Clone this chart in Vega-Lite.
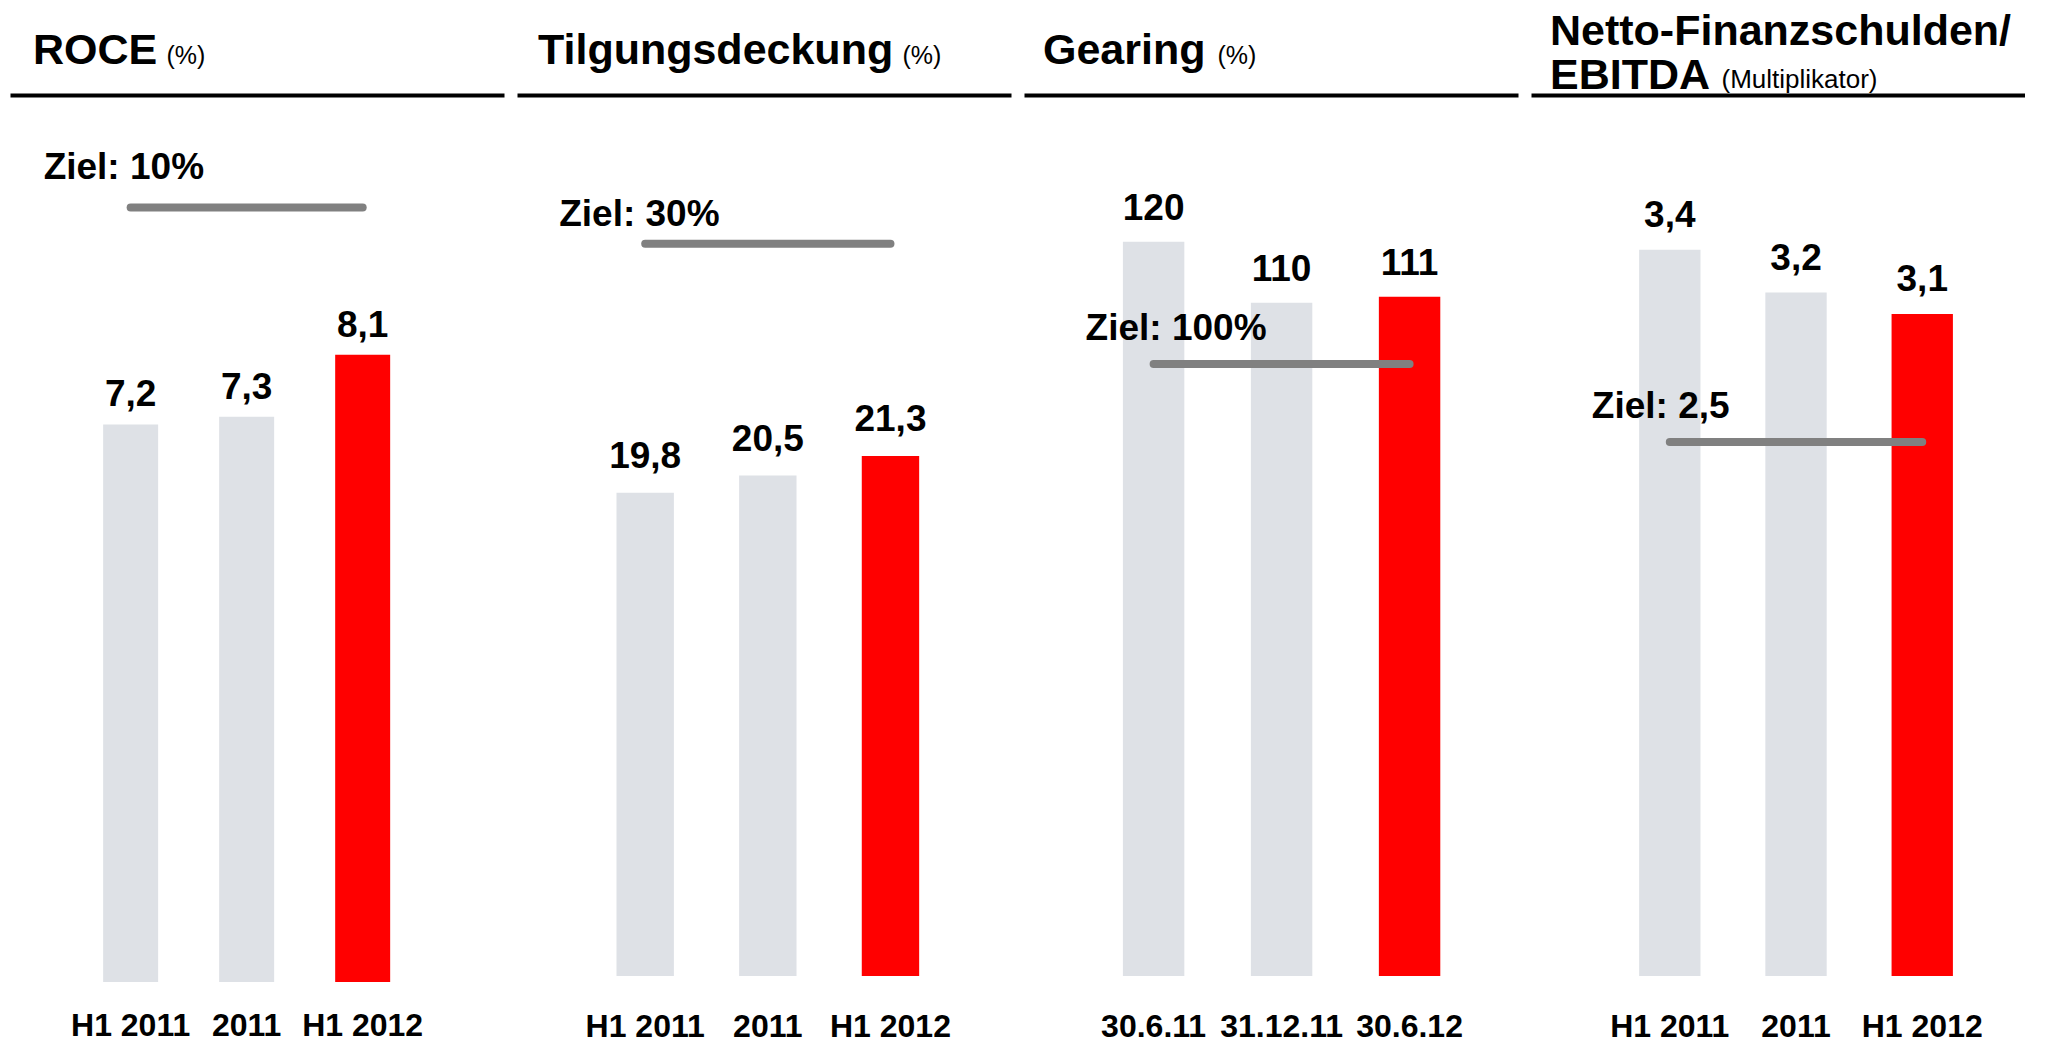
{
  "$schema": "https://vega.github.io/schema/vega-lite/v6.json",
  "background": "white",
  "padding": {"left": 10, "top": 11, "right": 0, "bottom": 0},
  "spacing": 13,
  "config": {
    "locale": {"number": {"decimal": ",", "thousands": ".", "grouping": [3], "currency": ["", " €"]}},
    "view": {"stroke": null},
    "font": "Liberation Sans",
    "title": {"font": "Liberation Sans", "fontSize": 43, "fontWeight": "bold", "color": "black", "anchor": "start", "frame": "group", "dx": 21, "offset": -30, "lineHeight": 41},
    "text": {"font": "Liberation Sans", "fontWeight": "bold", "fontSize": 37, "color": "black"}
  },
  "datasets": {
    "bars": [
      {"kpi": "ROCE", "period": "H1 2011", "value": 7.2, "current": "no"},
      {"kpi": "ROCE", "period": "2011", "value": 7.3, "current": "no"},
      {"kpi": "ROCE", "period": "H1 2012", "value": 8.1, "current": "yes"},
      {"kpi": "Tilgung", "period": "H1 2011", "value": 19.8, "current": "no"},
      {"kpi": "Tilgung", "period": "2011", "value": 20.5, "current": "no"},
      {"kpi": "Tilgung", "period": "H1 2012", "value": 21.3, "current": "yes"},
      {"kpi": "Gearing", "period": "30.6.11", "value": 120, "current": "no"},
      {"kpi": "Gearing", "period": "31.12.11", "value": 110, "current": "no"},
      {"kpi": "Gearing", "period": "30.6.12", "value": 111, "current": "yes"},
      {"kpi": "NFS", "period": "H1 2011", "value": 3.4, "current": "no"},
      {"kpi": "NFS", "period": "2011", "value": 3.2, "current": "no"},
      {"kpi": "NFS", "period": "H1 2012", "value": 3.1, "current": "yes"}
    ],
    "targets": [
      {"kpi": "ROCE", "from": "H1 2011", "to": "H1 2012", "target": 10, "label": "Ziel: 10%"},
      {"kpi": "Tilgung", "from": "H1 2011", "to": "H1 2012", "target": 30, "label": "Ziel: 30%"},
      {"kpi": "Gearing", "from": "30.6.11", "to": "30.6.12", "target": 100, "label": "Ziel: 100%"},
      {"kpi": "NFS", "from": "H1 2011", "to": "H1 2012", "target": 2.5, "label": "Ziel: 2,5"}
    ]
  },
  "hconcat": [
    {
      "width": 494, "height": 887,
      "title": {"text": "ROCE", "dx": 23},
      "layer": [
        {
          "data": {"name": "bars"},
          "transform": [{"filter": "datum.kpi === 'ROCE'"}],
          "mark": {"type": "bar"},
          "encoding": {
            "x": {"field": "period", "type": "nominal", "sort": null,
              "scale": {"domain": ["H1 2011", "2011", "H1 2012"], "paddingInner": 0.526, "paddingOuter": 0.892, "align": 0.45},
              "axis": {"orient": "bottom", "title": null, "domain": false, "ticks": false, "grid": false, "labelAngle": 0, "labelFont": "Liberation Sans", "labelFontSize": 32, "labelFontWeight": "bold", "labelColor": "black", "labelPadding": 28}},
            "y": {"field": "value", "type": "quantitative", "scale": {"domain": [0, 11.454], "nice": false}, "axis": null},
            "color": {"field": "current", "type": "nominal", "scale": {"domain": ["no", "yes"], "range": ["#dee1e6", "#ff0000"]}, "legend": null}
          }
        },
        {
          "data": {"name": "bars"},
          "transform": [{"filter": "datum.kpi === 'ROCE'"}],
          "mark": {"type": "text", "baseline": "alphabetic", "dy": -18},
          "encoding": {
            "x": {"field": "period", "type": "nominal", "sort": null, "axis": null},
            "y": {"field": "value", "type": "quantitative", "scale": {"domain": [0, 11.454], "nice": false}, "axis": null},
            "text": {"field": "value", "type": "quantitative", "format": ".1f"}
          }
        },
        {
          "data": {"name": "targets"},
          "transform": [{"filter": "datum.kpi === 'ROCE'"}],
          "mark": {"type": "rule", "strokeWidth": 8, "color": "#808080", "strokeCap": "round"},
          "encoding": {
            "x": {"field": "from", "type": "nominal", "bandPosition": 0.5,
              "axis": {"orient": "top", "title": "(%)", "labels": false, "ticks": false, "grid": false, "domain": true, "domainColor": "black", "domainWidth": 4, "titleFont": "Liberation Sans", "titleFontSize": 25, "titleFontWeight": "normal", "titleColor": "black", "titleAnchor": "start", "titleAlign": "left", "titleBaseline": "alphabetic", "titleX": 156, "titleY": -32}},
            "x2": {"field": "to", "bandPosition": 0.5},
            "y": {"field": "target", "type": "quantitative", "scale": {"domain": [0, 11.454], "nice": false}, "axis": null}
          }
        },
        {
          "data": {"name": "targets"},
          "transform": [{"filter": "datum.kpi === 'ROCE'"}],
          "mark": {"type": "text", "align": "left", "baseline": "middle", "dx": -87, "dy": -40},
          "encoding": {
            "x": {"field": "from", "type": "nominal", "axis": null},
            "y": {"field": "target", "type": "quantitative", "scale": {"domain": [0, 11.454], "nice": false}, "axis": null},
            "text": {"field": "label", "type": "nominal"}
          }
        }
      ],
      "resolve": {"axis": {"x": "independent"}}
    },
    {
      "width": 494, "height": 881,
      "title": {"text": "Tilgungsdeckung", "dx": 21},
      "layer": [
        {
          "data": {"name": "bars"},
          "transform": [{"filter": "datum.kpi === 'Tilgung'"}],
          "mark": {"type": "bar"},
          "encoding": {
            "x": {"field": "period", "type": "nominal", "sort": null,
              "scale": {"domain": ["H1 2011", "2011", "H1 2012"], "paddingInner": 0.532, "paddingOuter": 0.78, "align": 0.52},
              "axis": {"orient": "bottom", "title": null, "domain": false, "ticks": false, "grid": false, "labelAngle": 0, "labelFont": "Liberation Sans", "labelFontSize": 32, "labelFontWeight": "bold", "labelColor": "black", "labelPadding": 35}},
            "y": {"field": "value", "type": "quantitative", "scale": {"domain": [0, 36.09], "nice": false}, "axis": null},
            "color": {"field": "current", "type": "nominal", "scale": {"domain": ["no", "yes"], "range": ["#dee1e6", "#ff0000"]}, "legend": null}
          }
        },
        {
          "data": {"name": "bars"},
          "transform": [{"filter": "datum.kpi === 'Tilgung'"}],
          "mark": {"type": "text", "baseline": "alphabetic", "dy": -25},
          "encoding": {
            "x": {"field": "period", "type": "nominal", "sort": null, "axis": null},
            "y": {"field": "value", "type": "quantitative", "scale": {"domain": [0, 36.09], "nice": false}, "axis": null},
            "text": {"field": "value", "type": "quantitative", "format": ".1f"}
          }
        },
        {
          "data": {"name": "targets"},
          "transform": [{"filter": "datum.kpi === 'Tilgung'"}],
          "mark": {"type": "rule", "strokeWidth": 8, "color": "#808080", "strokeCap": "round"},
          "encoding": {
            "x": {"field": "from", "type": "nominal", "bandPosition": 0.5,
              "axis": {"orient": "top", "title": "(%)", "labels": false, "ticks": false, "grid": false, "domain": true, "domainColor": "black", "domainWidth": 4, "titleFont": "Liberation Sans", "titleFontSize": 25, "titleFontWeight": "normal", "titleColor": "black", "titleAnchor": "start", "titleAlign": "left", "titleBaseline": "alphabetic", "titleX": 385, "titleY": -32}},
            "x2": {"field": "to", "bandPosition": 0.5},
            "y": {"field": "target", "type": "quantitative", "scale": {"domain": [0, 36.09], "nice": false}, "axis": null}
          }
        },
        {
          "data": {"name": "targets"},
          "transform": [{"filter": "datum.kpi === 'Tilgung'"}],
          "mark": {"type": "text", "align": "left", "baseline": "middle", "dx": -86, "dy": -29},
          "encoding": {
            "x": {"field": "from", "type": "nominal", "axis": null},
            "y": {"field": "target", "type": "quantitative", "scale": {"domain": [0, 36.09], "nice": false}, "axis": null},
            "text": {"field": "label", "type": "nominal"}
          }
        }
      ],
      "resolve": {"axis": {"x": "independent"}}
    },
    {
      "width": 494, "height": 881,
      "title": {"text": "Gearing", "dx": 19},
      "layer": [
        {
          "data": {"name": "bars"},
          "transform": [{"filter": "datum.kpi === 'Gearing'"}],
          "mark": {"type": "bar"},
          "encoding": {
            "x": {"field": "period", "type": "nominal", "sort": null,
              "scale": {"domain": ["30.6.11", "31.12.11", "30.6.12"], "paddingInner": 0.52, "paddingOuter": 0.69, "align": 0.56},
              "axis": {"orient": "bottom", "title": null, "domain": false, "ticks": false, "grid": false, "labelAngle": 0, "labelFont": "Liberation Sans", "labelFontSize": 32, "labelFontWeight": "bold", "labelColor": "black", "labelPadding": 35}},
            "y": {"field": "value", "type": "quantitative", "scale": {"domain": [0, 143.96], "nice": false}, "axis": null},
            "color": {"field": "current", "type": "nominal", "scale": {"domain": ["no", "yes"], "range": ["#dee1e6", "#ff0000"]}, "legend": null}
          }
        },
        {
          "data": {"name": "bars"},
          "transform": [{"filter": "datum.kpi === 'Gearing'"}],
          "mark": {"type": "text", "baseline": "alphabetic", "dy": -22},
          "encoding": {
            "x": {"field": "period", "type": "nominal", "sort": null, "axis": null},
            "y": {"field": "value", "type": "quantitative", "scale": {"domain": [0, 143.96], "nice": false}, "axis": null},
            "text": {"field": "value", "type": "quantitative", "format": "d"}
          }
        },
        {
          "data": {"name": "targets"},
          "transform": [{"filter": "datum.kpi === 'Gearing'"}],
          "mark": {"type": "rule", "strokeWidth": 8, "color": "#808080", "strokeCap": "round"},
          "encoding": {
            "x": {"field": "from", "type": "nominal", "bandPosition": 0.5,
              "axis": {"orient": "top", "title": "(%)", "labels": false, "ticks": false, "grid": false, "domain": true, "domainColor": "black", "domainWidth": 4, "titleFont": "Liberation Sans", "titleFontSize": 25, "titleFontWeight": "normal", "titleColor": "black", "titleAnchor": "start", "titleAlign": "left", "titleBaseline": "alphabetic", "titleX": 193, "titleY": -32}},
            "x2": {"field": "to", "bandPosition": 0.5},
            "y": {"field": "target", "type": "quantitative", "scale": {"domain": [0, 143.96], "nice": false}, "axis": null}
          }
        },
        {
          "data": {"name": "targets"},
          "transform": [{"filter": "datum.kpi === 'Gearing'"}],
          "mark": {"type": "text", "align": "left", "baseline": "middle", "dx": -68, "dy": -35},
          "encoding": {
            "x": {"field": "from", "type": "nominal", "axis": null},
            "y": {"field": "target", "type": "quantitative", "scale": {"domain": [0, 143.96], "nice": false}, "axis": null},
            "text": {"field": "label", "type": "nominal"}
          }
        }
      ],
      "resolve": {"axis": {"x": "independent"}}
    },
    {
      "width": 494, "height": 881,
      "title": {"text": ["Netto-Finanzschulden/", "EBITDA"], "dx": 19, "offset": -32, "lineHeight": 44},
      "layer": [
        {
          "data": {"name": "bars"},
          "transform": [{"filter": "datum.kpi === 'NFS'"}],
          "mark": {"type": "bar"},
          "encoding": {
            "x": {"field": "period", "type": "nominal", "sort": null,
              "scale": {"domain": ["H1 2011", "2011", "H1 2012"], "paddingInner": 0.514, "paddingOuter": 0.714, "align": 0.6},
              "axis": {"orient": "bottom", "title": null, "domain": false, "ticks": false, "grid": false, "labelAngle": 0, "labelFont": "Liberation Sans", "labelFontSize": 32, "labelFontWeight": "bold", "labelColor": "black", "labelPadding": 35}},
            "y": {"field": "value", "type": "quantitative", "scale": {"domain": [0, 4.125], "nice": false}, "axis": null},
            "color": {"field": "current", "type": "nominal", "scale": {"domain": ["no", "yes"], "range": ["#dee1e6", "#ff0000"]}, "legend": null}
          }
        },
        {
          "data": {"name": "bars"},
          "transform": [{"filter": "datum.kpi === 'NFS'"}],
          "mark": {"type": "text", "baseline": "alphabetic", "dy": -23},
          "encoding": {
            "x": {"field": "period", "type": "nominal", "sort": null, "axis": null},
            "y": {"field": "value", "type": "quantitative", "scale": {"domain": [0, 4.125], "nice": false}, "axis": null},
            "text": {"field": "value", "type": "quantitative", "format": ".1f"}
          }
        },
        {
          "data": {"name": "targets"},
          "transform": [{"filter": "datum.kpi === 'NFS'"}],
          "mark": {"type": "rule", "strokeWidth": 8, "color": "#808080", "strokeCap": "round"},
          "encoding": {
            "x": {"field": "from", "type": "nominal", "bandPosition": 0.5,
              "axis": {"orient": "top", "title": "(Multiplikator)", "labels": false, "ticks": false, "grid": false, "domain": true, "domainColor": "black", "domainWidth": 4, "titleFont": "Liberation Sans", "titleFontSize": 26, "titleFontWeight": "normal", "titleColor": "black", "titleAnchor": "start", "titleAlign": "left", "titleBaseline": "alphabetic", "titleX": 190, "titleY": -8}},
            "x2": {"field": "to", "bandPosition": 0.5},
            "y": {"field": "target", "type": "quantitative", "scale": {"domain": [0, 4.125], "nice": false}, "axis": null}
          }
        },
        {
          "data": {"name": "targets"},
          "transform": [{"filter": "datum.kpi === 'NFS'"}],
          "mark": {"type": "text", "align": "left", "baseline": "middle", "dx": -78, "dy": -35},
          "encoding": {
            "x": {"field": "from", "type": "nominal", "axis": null},
            "y": {"field": "target", "type": "quantitative", "scale": {"domain": [0, 4.125], "nice": false}, "axis": null},
            "text": {"field": "label", "type": "nominal"}
          }
        }
      ],
      "resolve": {"axis": {"x": "independent"}}
    }
  ]
}
